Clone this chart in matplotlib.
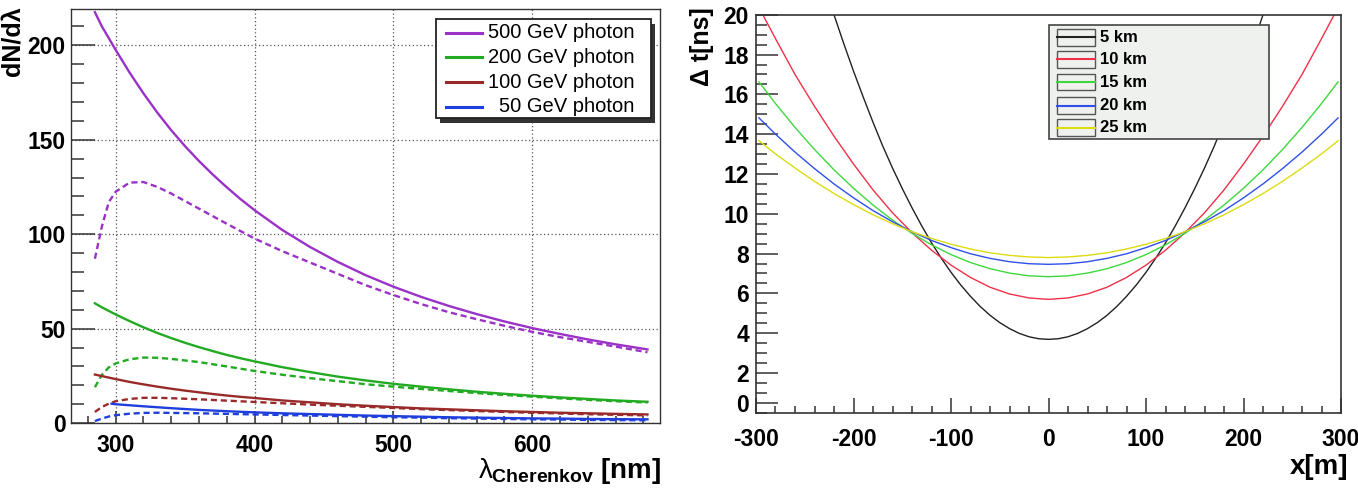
import numpy as np
import matplotlib.pyplot as plt
from matplotlib.patches import Rectangle
from matplotlib.ticker import MultipleLocator, FixedLocator

plt.rcParams['font.family'] = ['Liberation Sans', 'DejaVu Sans']
plt.rcParams['mathtext.fontset'] = 'custom'
plt.rcParams['mathtext.rm'] = 'Liberation Sans:bold'
plt.rcParams['mathtext.it'] = 'Liberation Sans'
plt.rcParams['axes.unicode_minus'] = False

# ---- left panel: Cherenkov spectra (solid = emitted, dashed = at ground)
lam = [285, 290, 300, 310, 320, 330, 340, 350, 360, 370, 380, 390, 400, 420,
       440, 460, 480, 500, 520, 540, 560, 580, 600, 620, 640, 660, 683]
lam_50 = [297, 300, 320, 340, 360, 380, 400, 420, 440, 460, 480, 500,
          520, 540, 560, 580, 600, 620, 640, 660, 683]
lam_d = [285, 290, 295, 300, 310, 320, 330, 340, 360, 380, 400, 420, 440,
         460, 480, 500, 520, 540, 560, 580, 600, 620, 640, 660, 683]

e500 = [217.5, 210, 197.5, 185.5, 174.5, 164.3, 155, 146.5, 138.7, 131.5,
        124.8, 118.5, 112.7, 102.2, 93.2, 85.3, 78.3, 72.2, 66.8, 62, 57.7,
        53.8, 50.3, 47.2, 44.3, 41.7, 39.0]
e200 = [63.4, 61.3, 57.5, 54.0, 50.7, 47.7, 45, 42.5, 40.2, 38.1, 36.1, 34.3,
        32.7, 29.6, 27, 24.6, 22.6, 20.8, 19.3, 17.9, 16.6, 15.5, 14.5, 13.6,
        12.8, 12.0, 11.3]
e100 = [25.7, 24.9, 23.3, 21.8, 20.5, 19.3, 18.2, 17.2, 16.3, 15.4, 14.6,
        13.9, 13.3, 12.0, 11.0, 10.0, 9.2, 8.5, 7.8, 7.3, 6.8, 6.3, 5.9, 5.5,
        5.2, 4.9, 4.6]
e50 = [10.3, 10.0, 8.9, 7.9, 7.0, 6.3, 5.7, 5.2, 4.8, 4.4, 4.0, 3.7,
       3.4, 3.1, 2.9, 2.7, 2.5, 2.4, 2.2, 2.1, 2.0]

g500 = [87, 104, 117, 122.5, 127.3, 127.6, 125, 121.5, 113.5, 105.5, 97.7, 91,
        85, 79, 73, 67.8, 63, 58.7, 55, 51.5, 48.3, 45.5, 43, 40.5, 37.5]
g200 = [19, 25.5, 29.5, 31.6, 33.8, 34.7, 34.6, 34, 32.3, 30, 27.6, 25.6,
        23.8, 22.2, 20.6, 19.3, 18.1, 17, 15.9, 14.9, 14, 13.1, 12.3, 11.6, 10.9]
g100 = [5.9, 8.5, 10.3, 11.6, 12.8, 13.4, 13.4, 13.2, 12.6, 11.9, 11.2, 10.5,
        9.8, 9.2, 8.6, 8.0, 7.4, 6.9, 6.4, 5.9, 5.5, 5.1, 4.7, 4.4, 4.1]
g50 = [1.1, 2.4, 3.5, 4.2, 5.0, 5.4, 5.5, 5.4, 5.2, 4.9, 4.6, 4.3,
       4.0, 3.7, 3.4, 3.1, 2.9, 2.6, 2.4, 2.2, 2.0, 1.9, 1.7, 1.6, 1.5]

energy_labels = ['500 GeV photon', '200 GeV photon', '100 GeV photon', '50 GeV photon']
energy_colors = ['#9a32c8', '#22aa22', '#992a2a', '#1f3fdd']

# ---- right panel: arrival time spread vs distance for emission heights
x_black = [-220, -210, -200, -190, -180, -170, -160, -150, -140, -130, -120,
           -110, -100, -90, -80, -70, -60, -50, -40, -30, -20, -10, 0,
           10, 20, 30, 40, 50, 60, 70, 80, 90, 100, 110, 120, 130, 140, 150,
           160, 170, 180, 190, 200, 210, 220]
t_5 = [20.0, 18.55, 17.17, 15.86, 14.6, 13.4, 12.3, 11.27, 10.3, 9.39, 8.54,
       7.77, 7.06, 6.42, 5.85, 5.34, 4.90, 4.53, 4.23, 3.99, 3.82, 3.72, 3.69,
       3.72, 3.82, 3.99, 4.23, 4.53, 4.90, 5.34, 5.85, 6.42, 7.06, 7.77, 8.54,
       9.39, 10.3, 11.27, 12.3, 13.4, 14.6, 15.86, 17.17, 18.55, 20.0]
x_red = [-293, -280, -260, -240, -220, -200, -180, -160, -140, -120, -100, -80,
         -60, -40, -20, 0, 20, 40, 60, 80, 100, 120, 140, 160, 180, 200, 220,
         240, 260, 280, 293]
t_10 = [20.0, 18.8, 17.0, 15.4, 13.9, 12.5, 11.2, 10.05, 9.05, 8.17, 7.42, 6.80,
        6.31, 5.97, 5.77, 5.70, 5.77, 5.97, 6.31, 6.80, 7.42, 8.17, 9.05, 10.05,
        11.2, 12.5, 13.9, 15.4, 17.0, 18.8, 20.0]
x_far = [-297, -280, -260, -240, -220, -200, -180, -160, -140, -120, -100, -80,
         -60, -40, -20, 0, 20, 40, 60, 80, 100, 120, 140, 160, 180, 200, 220,
         240, 260, 280, 297]
t_15 = [16.63, 15.54, 14.34, 13.23, 12.21, 11.28, 10.44, 9.68, 9.02, 8.44, 7.95,
        7.55, 7.24, 7.02, 6.88, 6.84, 6.88, 7.02, 7.24, 7.55, 7.95, 8.44, 9.02,
        9.68, 10.44, 11.28, 12.21, 13.23, 14.34, 15.54, 16.63]
t_20 = [14.82, 14.0, 13.1, 12.27, 11.5, 10.8, 10.16, 9.6, 9.1, 8.66, 8.3, 7.99,
        7.76, 7.59, 7.49, 7.46, 7.49, 7.59, 7.76, 7.99, 8.3, 8.66, 9.1, 9.6,
        10.16, 10.8, 11.5, 12.27, 13.1, 14.0, 14.82]
t_25 = [13.67, 13.01, 12.3, 11.63, 11.02, 10.46, 9.95, 9.5, 9.1, 8.76, 8.47,
        8.23, 8.04, 7.91, 7.83, 7.80, 7.83, 7.91, 8.04, 8.23, 8.47, 8.76, 9.1,
        9.5, 9.95, 10.46, 11.02, 11.63, 12.3, 13.01, 13.67]

height_labels = ['5 km', '10 km', '15 km', '20 km', '25 km']
height_colors = ['#222222', '#f03048', '#3ed83e', '#3050e8', '#dcdc10']

fig = plt.figure(figsize=(13.58, 4.92), dpi=100)

# ================= left =================
ax1 = fig.add_axes([0.0525, 0.140, 0.4335, 0.841])
solids = [(lam, e500), (lam, e200), (lam, e100), (lam_50, e50)]
dashed = [g500, g200, g100, g50]
for (xs, ys), yd, c in zip(solids, dashed, energy_colors):
    ax1.plot(xs, ys, color=c, lw=1.7)
    ax1.plot(lam_d, yd, color=c, lw=1.7, dashes=(2.6, 1.6))

ax1.set_xlim(268, 692)
ax1.set_ylim(0, 219)
ax1.xaxis.set_major_locator(MultipleLocator(100))
ax1.xaxis.set_minor_locator(MultipleLocator(20))
ax1.yaxis.set_major_locator(MultipleLocator(50))
ax1.yaxis.set_minor_locator(MultipleLocator(10))
ax1.grid(True, which='major', color='#555555', lw=0.9, linestyle=(0, (1, 2)))
ax1.tick_params(which='both', direction='in', top=False, right=False,
                labelsize=16.5, width=1.1, color='#333333')
ax1.tick_params(axis='y', which='major', length=17, pad=4)
ax1.tick_params(axis='y', which='minor', length=9)
ax1.tick_params(axis='x', which='major', length=9, pad=8)
ax1.tick_params(axis='x', which='minor', length=5)
for lb in ax1.get_xticklabels() + ax1.get_yticklabels():
    lb.set_fontweight('bold')
for s in ax1.spines.values():
    s.set_linewidth(1.0)
    s.set_color('#333333')

fig.text(0.009, 0.988, 'dN/dλ', rotation=90, ha='center', va='top',
         fontsize=18, fontweight='bold')
fig.text(0.487, 0.012, r'$\lambda_{\mathrm{Cherenkov}}$ [nm]', ha='right', va='bottom',
         fontsize=20, fontweight='bold')

# legend box
lx0, lx1, ly0, ly1 = 0.62, 0.985, 0.737, 0.976
ax1.add_patch(Rectangle((lx0 + 0.006, ly0 - 0.012), lx1 - lx0, ly1 - ly0,
                        transform=ax1.transAxes, facecolor='#333333',
                        edgecolor='none', zorder=5))
ax1.add_patch(Rectangle((lx0, ly0), lx1 - lx0, ly1 - ly0, transform=ax1.transAxes,
                        facecolor='white', edgecolor='#222222', lw=1.3, zorder=6))
rows1 = [0.944, 0.884, 0.824, 0.765]
for yy, lab, c in zip(rows1, energy_labels, energy_colors):
    ax1.plot([0.636, 0.697], [yy, yy], color=c, lw=2.2, transform=ax1.transAxes,
             zorder=7)
    ax1.text(0.956, yy, lab, ha='right', va='center', fontsize=14.5,
             transform=ax1.transAxes, zorder=7)

# ================= right =================
ax2 = fig.add_axes([0.5567, 0.161, 0.4308, 0.809])
series = [(x_black, t_5), (x_red, t_10), (x_far, t_15), (x_far, t_20), (x_far, t_25)]
for (xs, ys), c in zip(series, height_colors):
    ax2.plot(xs, ys, color=c, lw=1.0)

ax2.set_xlim(-300, 300)
ax2.set_ylim(0, 20)
ax2.xaxis.set_major_locator(MultipleLocator(100))
ax2.xaxis.set_minor_locator(MultipleLocator(20))
yt = [0.5, 2, 4, 6, 8, 10, 12, 14, 16, 18, 20]
ax2.yaxis.set_major_locator(FixedLocator(yt))
ax2.set_yticklabels(['0', '2', '4', '6', '8', '10', '12', '14', '16', '18', '20'])
ax2.yaxis.set_minor_locator(MultipleLocator(0.5))
ax2.tick_params(which='both', direction='in', top=False, right=False,
                labelsize=16.5, width=1.1, color='#333333')
ax2.tick_params(axis='y', which='major', length=16, pad=5)
ax2.tick_params(axis='y', which='minor', length=8)
ax2.tick_params(axis='x', which='major', length=11, pad=11)
ax2.tick_params(axis='x', which='minor', length=5)
for lb in ax2.get_xticklabels() + ax2.get_yticklabels():
    lb.set_fontweight('bold')
for s in ax2.spines.values():
    s.set_linewidth(1.2)
    s.set_color('#333333')

fig.text(0.517, 0.985, 'Δ t[ns]', rotation=90, ha='center', va='top',
         fontsize=18, fontweight='bold')
fig.text(0.993, 0.025, 'x[m]', ha='right', va='bottom', fontsize=20,
         fontweight='bold')

# legend box
bx0, bx1, by0, by1 = 0.50, 0.877, 0.688, 0.975
ax2.add_patch(Rectangle((bx0, by0), bx1 - bx0, by1 - by0, transform=ax2.transAxes,
                        facecolor='#eff1ef', edgecolor='#444444', lw=1.2, zorder=6))
rows2 = [0.943, 0.888, 0.831, 0.772, 0.716]
for yy, lab, c in zip(rows2, height_labels, height_colors):
    ax2.add_patch(Rectangle((0.514, yy - 0.021), 0.066, 0.042, transform=ax2.transAxes,
                            facecolor='none', edgecolor='#555555', lw=1.0, zorder=7))
    ax2.plot([0.514, 0.580], [yy, yy], color=c, lw=1.5, transform=ax2.transAxes,
             zorder=8)
    ax2.text(0.588, yy, lab, ha='left', va='center', fontsize=12,
             fontweight='bold', transform=ax2.transAxes, zorder=8)

fig.savefig('out.png', dpi=100)
